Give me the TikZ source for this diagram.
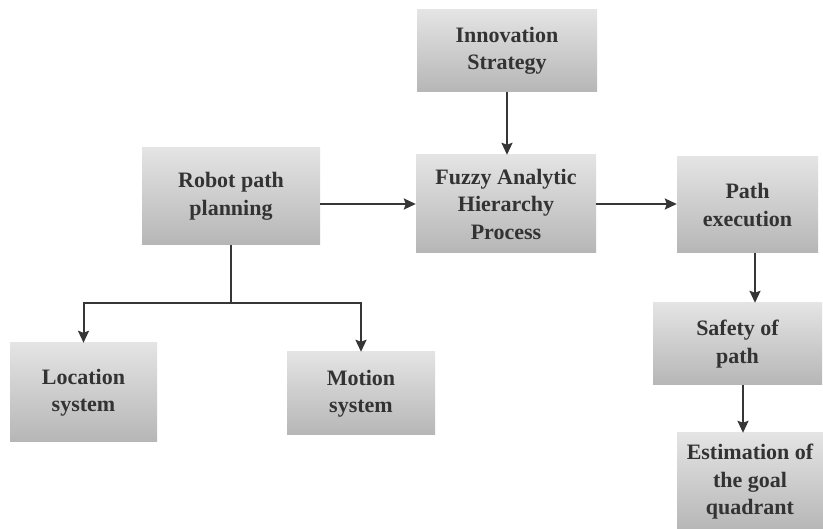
\documentclass[tikz,border=0pt]{standalone}
\usepackage{fontspec}
\setmainfont{Liberation Serif}
\usetikzlibrary{arrows.meta}
\definecolor{boxtop}{HTML}{E4E4E4}
\definecolor{boxbot}{HTML}{B6B6B6}
\definecolor{ink}{HTML}{333333}
\definecolor{wire}{HTML}{363636}
\begin{document}
\begin{tikzpicture}[x=1pt,y=-1pt,
  stagebox/.style={top color=boxtop,bottom color=boxbot,draw=none,
    inner sep=0pt,align=center,text=ink,
    font=\fontsize{22}{27.5}\selectfont\bfseries},
  flow/.style={draw=wire,line width=2pt,-{Stealth[length=12pt,width=11pt,inset=2pt]}},
  wire/.style={draw=wire,line width=2pt}]
\useasboundingbox[fill=white] (0,0) rectangle (823,529);
% boxes
\node[stagebox,minimum width=180pt,minimum height=82pt] (inn) at (507,51) {Innovation\\Strategy};
\node[stagebox,minimum width=180pt,minimum height=98pt] (fahp) at (506,204) {Fuzzy Analytic\\Hierarchy\\Process};
\node[stagebox,minimum width=178pt,minimum height=97pt] (rob) at (231,196.5) {Robot path\\planning};
\node[stagebox,minimum width=141pt,minimum height=96pt] (pexe) at (747.5,205) {Path\\execution};
\node[stagebox,minimum width=169pt,minimum height=82pt] (safe) at (737.5,344) {Safety of\\path};
\node[stagebox,minimum width=146pt,minimum height=98pt] (goal) at (750,482) {Estimation of\\the goal\\quadrant};
\node[stagebox,minimum width=147pt,minimum height=99pt] (loc) at (83.5,392.5) {Location\\system};
\node[stagebox,minimum width=148pt,minimum height=83pt] (mot) at (361,393.5) {Motion\\system};
% connectors
\draw[flow] (inn.south) -- (inn.south |- fahp.north);
\draw[flow] (fahp.west -| rob.east) -- (fahp.west);
\draw[flow] (fahp.east) -- (fahp.east -| pexe.west);
\draw[flow] ([xshift=7.5pt]pexe.south) -- ([xshift=7.5pt]pexe.south |- safe.north);
\draw[flow] ([xshift=5.5pt]safe.south) -- ([xshift=5.5pt]safe.south |- goal.north);
\coordinate (split) at (231,303);
\draw[wire] (rob.south) -- (split);
\draw[flow] (split) -| (loc.north);
\draw[flow] (split) -| (mot.north);
\end{tikzpicture}
\end{document}
